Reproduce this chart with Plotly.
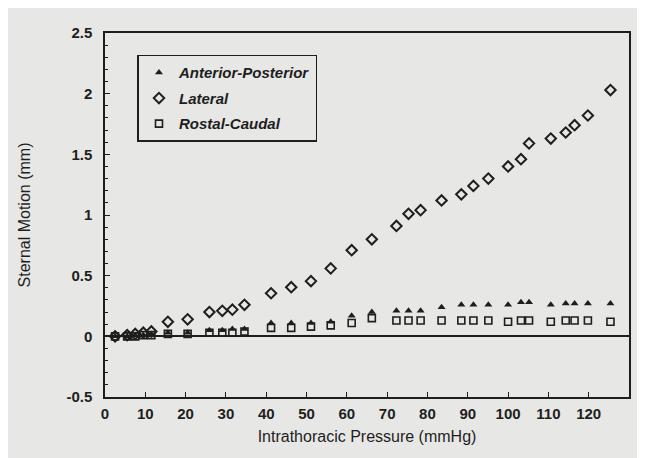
import plotly.graph_objects as go

pressure = [2.5, 5.5, 7.5, 9.5, 11.5, 15.6, 20.5, 25.9, 29.1, 31.6, 34.6, 41.2, 46.2, 51.1,
            56.0, 61.2, 66.2, 72.3, 75.3, 78.3, 83.5, 88.4, 91.4, 95.1, 100.0, 103.2, 105.2,
            110.6, 114.3, 116.5, 119.8, 125.4]
anterior_posterior = [0.0, 0.0, 0.01, 0.01, 0.02, 0.03, 0.03, 0.05, 0.05, 0.06, 0.06, 0.11,
                      0.11, 0.11, 0.12, 0.17, 0.20, 0.21, 0.21, 0.21, 0.24, 0.26, 0.26, 0.26,
                      0.26, 0.28, 0.28, 0.26, 0.27, 0.27, 0.27, 0.27]
lateral = [0.0, 0.01, 0.02, 0.03, 0.04, 0.12, 0.14, 0.20, 0.21, 0.22, 0.26, 0.355, 0.405,
           0.455, 0.56, 0.71, 0.80, 0.91, 1.01, 1.04, 1.12, 1.17, 1.24, 1.30, 1.40, 1.46,
           1.59, 1.63, 1.68, 1.74, 1.82, 2.03]
rostal_caudal = [0.0, 0.0, 0.0, 0.01, 0.01, 0.02, 0.02, 0.03, 0.03, 0.03, 0.04, 0.07, 0.07,
                 0.08, 0.09, 0.11, 0.15, 0.13, 0.13, 0.13, 0.13, 0.13, 0.13, 0.13, 0.12,
                 0.13, 0.13, 0.12, 0.13, 0.13, 0.13, 0.12]

x_ticks = list(range(0, 130, 10))
y_ticks = [-0.5, 0, 0.5, 1, 1.5, 2, 2.5]
y_tick_text = ["-0.5", "0", "0.5", "1", "1.5", "2", "2.5"]

ink = "#1e1e1e"
fig = go.Figure()
fig.add_trace(go.Scatter(
    x=pressure, y=anterior_posterior, mode="markers", name="Anterior-Posterior",
    legendgroup="a",
    marker=dict(symbol="triangle-up", size=7, color=ink)))
fig.add_trace(go.Scatter(
    x=pressure, y=lateral, mode="markers", name="Lateral", legendgroup="b",
    marker=dict(symbol="diamond-open", size=8, color=ink, line=dict(width=2, color=ink))))
fig.add_trace(go.Scatter(
    x=pressure, y=rostal_caudal, mode="markers", name="Rostal-Caudal", legendgroup="c",
    marker=dict(symbol="square-open", size=7, color=ink, line=dict(width=1.6, color=ink))))

fig.update_layout(
    width=637, height=450,
    paper_bgcolor="#e7e7e5", plot_bgcolor="#e7e7e5",
    margin=dict(l=97, r=16, t=25, b=61),
    font=dict(family="Liberation Sans, Arial, sans-serif", size=15, color=ink),
    showlegend=True,
    legend=dict(
        x=0.062, y=0.94, xanchor="left", yanchor="top",
        bgcolor="rgba(0,0,0,0)", bordercolor=ink, borderwidth=1.5,
        font=dict(size=15, style="italic", weight="bold", color=ink),
        tracegroupgap=3, itemwidth=30),
    xaxis=dict(
        range=[0, 130], tickvals=x_ticks, ticks="inside", ticklen=5, tickcolor=ink,
        showgrid=False, zeroline=False, showline=True, linecolor=ink, linewidth=1.5,
        mirror=True, ticklabelstandoff=2,
        title=dict(text="Intrathoracic Pressure (mmHg)", standoff=10,
                   font=dict(size=16)),
        tickfont=dict(size=15, weight="bold")),
    yaxis=dict(
        range=[-0.5, 2.5], tickvals=y_ticks, ticktext=y_tick_text, ticks="inside",
        ticklen=5, tickcolor=ink, showgrid=False, zeroline=True, zerolinecolor=ink,
        zerolinewidth=2, showline=True, linecolor=ink, linewidth=1.5, mirror=True,
        minor=dict(dtick=0.1, ticks="inside", ticklen=3, tickcolor=ink),
        ticklabelstandoff=8,
        title=dict(text="Sternal Motion (mm)", standoff=32, font=dict(size=16)),
        tickfont=dict(size=15, weight="bold")),
)

fig.write_html("out.html")
